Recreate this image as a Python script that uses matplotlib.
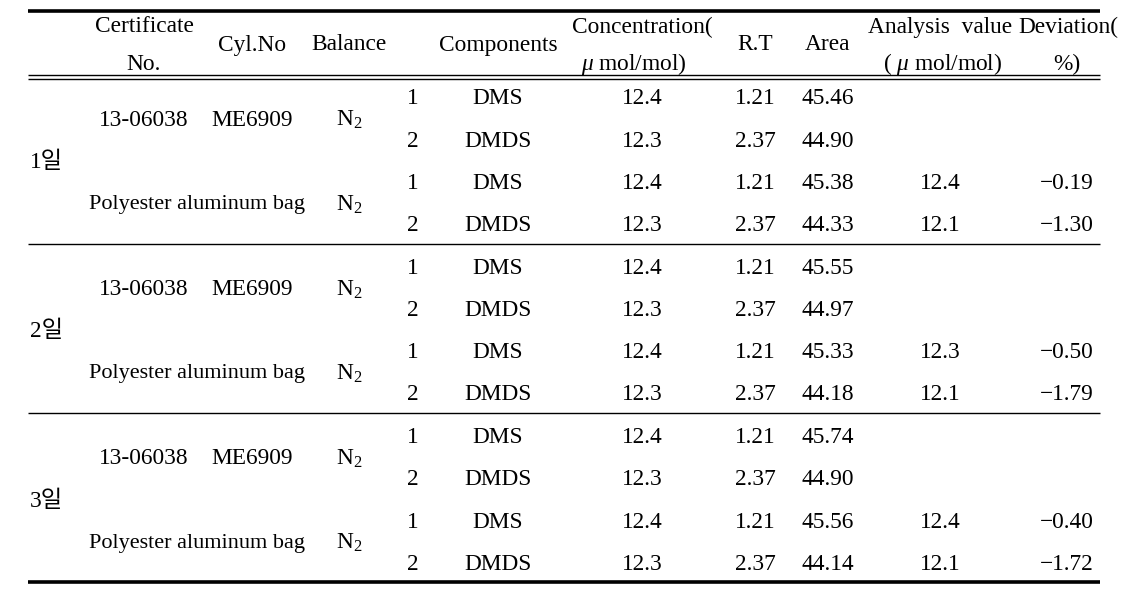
import matplotlib
matplotlib.use("Agg")
import matplotlib.pyplot as plt

plt.rcParams['font.family'] = ['Liberation Serif', 'Noto Sans CJK KR', 'DejaVu Sans']
plt.rcParams['mathtext.fontset'] = 'custom'
plt.rcParams['mathtext.rm'] = 'Liberation Serif'
plt.rcParams['mathtext.it'] = 'Liberation Serif:italic'

days = ["1일", "2일", "3일"]
certificate = "13-06038"
cylinder = "ME6909"
bag = "Polyester aluminum bag"
balance = r"$\mathregular{N_2}$"
indices = ["1", "2", "1", "2"]
components = ["DMS", "DMDS", "DMS", "DMDS"]
concentration = ["12.4", "12.3", "12.4", "12.3"]
retention = ["1.21", "2.37", "1.21", "2.37"]
areas = [
    ["45.46", "44.90", "45.38", "44.33"],
    ["45.55", "44.97", "45.33", "44.18"],
    ["45.74", "44.90", "45.56", "44.14"],
]
analysis = [
    ["", "", "12.4", "12.1"],
    ["", "", "12.3", "12.1"],
    ["", "", "12.4", "12.1"],
]
deviation = [
    ["", "", "-0.19", "-1.30"],
    ["", "", "-0.50", "-1.79"],
    ["", "", "-0.40", "-1.72"],
]

W, H = 1129, 605
fig = plt.figure(figsize=(W / 100, H / 100), dpi=100)
ax = fig.add_axes([0, 0, 1, 1])
ax.set_xlim(0, W)
ax.set_ylim(H, 0)
ax.axis("off")

fs = 16.8
dy = 2.0
x0, x1 = 28, 1100

# lines
ax.plot([x0, x1], [11, 11], color="black", lw=2.6, solid_capstyle="butt")
ax.plot([x0, x1], [75, 75], color="black", lw=1.0, solid_capstyle="butt")
ax.plot([x0, x1], [78.5, 78.5], color="black", lw=1.0, solid_capstyle="butt")
ax.plot([x0, x1], [244, 244], color="black", lw=1.0, solid_capstyle="butt")
ax.plot([x0, x1], [413, 413], color="black", lw=1.0, solid_capstyle="butt")
ax.plot([x0, x1], [582, 582], color="black", lw=2.6, solid_capstyle="butt")

def t(x, y, s, ha="center", size=fs):
    ax.text(x, y + dy, s, ha=ha, va="center", fontsize=size, color="black")

# header
t(144, 25, "Certificate")
t(144, 62, "No.")
t(252, 43, "Cyl.No")
t(349, 43, "Balance")
t(498, 43, "Components")
t(642, 25, "Concentration(")
t(634, 62, r"$\mu$ mol/mol)")
t(755, 43, "R.T")
t(828, 43, "Area")
t(940, 25, "Analysis  value")
t(943, 62, r"( $\mu$ mol/mol)")
t(1068, 25, "Deviation(")
t(1067, 62, "%)")

row_h = 42.2
for g, day in enumerate(days):
    top = 97 + g * 169.3
    ys = [top + i * row_h for i in range(4)]
    t(30, (ys[1] + ys[2]) / 2, day, ha="left")
    t(144, (ys[0] + ys[1]) / 2, certificate)
    t(252, (ys[0] + ys[1]) / 2, cylinder)
    t(349, (ys[0] + ys[1]) / 2, balance)
    t(197, (ys[2] + ys[3]) / 2, bag, size=16)
    t(349, (ys[2] + ys[3]) / 2, balance)
    for i in range(4):
        t(413, ys[i], indices[i])
        t(498, ys[i], components[i])
        t(642, ys[i], concentration[i])
        t(755, ys[i], retention[i])
        t(828, ys[i], areas[g][i])
        if analysis[g][i]:
            t(940, ys[i], analysis[g][i])
        if deviation[g][i]:
            t(1067, ys[i], deviation[g][i].replace("-", "\u2212"))

fig.savefig("out.png", dpi=100)
